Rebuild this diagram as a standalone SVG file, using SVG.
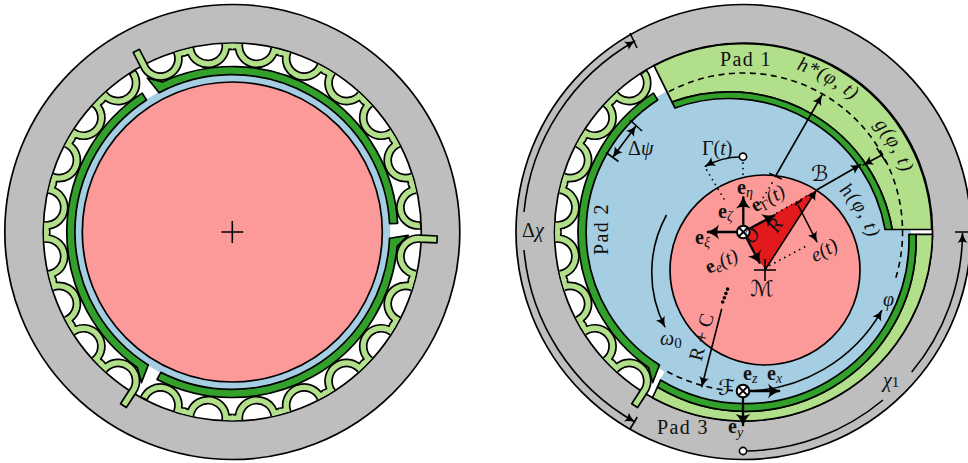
<svg xmlns="http://www.w3.org/2000/svg" xmlns:xlink="http://www.w3.org/1999/xlink" width="968" height="463" viewBox="0 0 968 463">
<style>
.k{stroke:#000;stroke-width:1.7;stroke-linejoin:round}
.gray{fill:#bebebe}.lime{fill:#b2df8a}.dark{fill:#33a02c}.blue{fill:#a6cee3}.pink{fill:#fb9a99}.red{fill:#e31a1c}.white{fill:#fff}
.l{fill:none;stroke:#000;stroke-width:1.6}
.v{fill:none;stroke:#000;stroke-width:2.3}
.dash{fill:none;stroke:#000;stroke-width:1.6;stroke-dasharray:6 4.5}
.dot{fill:none;stroke:#000;stroke-width:1.8;stroke-dasharray:0 5.6;stroke-linecap:round}
text{font-family:"Liberation Serif",serif;font-size:20px;fill:#111}
.i{font-style:italic}
.b{font-weight:bold}
.s{font-size:14px;font-style:italic}
.sc{font-family:"DejaVu Serif","DejaVu Sans",serif;font-style:italic;font-size:22px}
</style>
<defs>
<marker id="a" markerUnits="userSpaceOnUse" markerWidth="13" markerHeight="12" refX="10" refY="5.5" orient="auto-start-reverse" overflow="visible"><path d="M0,0.5 Q4,4 11,5.5 Q4,7 0,10.5 Q2.5,5.5 0,0.5Z"/></marker>
<marker id="A" markerUnits="userSpaceOnUse" markerWidth="16" markerHeight="16" refX="12" refY="7.5" orient="auto" overflow="visible"><path d="M0,0 Q5,5.5 13,7.5 Q5,9.5 0,15 Q3.5,7.5 0,0Z"/></marker>
<g id="b"><path class="lime" d="M-24.57,-186.66L-14.5,-187.7A14.5 14.5 0 0 0 14.5,-187.7L24.57,-186.66L23.8,-180.8L20.65,-181.7A21.5 21.5 0 0 1 -20.65,-181.7L-23.8,-180.8Z"/><path class="k" fill="none" d="M-14.5,-187.7A14.5 14.5 0 0 0 14.5,-187.7M23.8,-180.8L20.65,-181.7A21.5 21.5 0 0 1 -20.65,-181.7L-23.8,-180.8"/></g>
<g id="foil">
<path class="dark k" d="M165.3,-8.6A165.5 165.5 0 0 0 -69.9,-150L-85,-154L-73.2,-139.3A157.5 157.5 0 0 1 157.3,-8.3Z"/>
<g transform="rotate(-22.5)"><path class="lime" d="M-15.9,-204.3L-14.5,-187.7A14.5 14.5 0 0 0 14.5,-187.7L24.57,-186.66L23.8,-180.8L20.65,-181.7A21.5 21.5 0 0 1 -21.5,-187.7L-22.8,-203.7Z"/><path class="k" fill="none" d="M23.8,-180.8L20.65,-181.7A21.5 21.5 0 0 1 -21.5,-187.7L-22.8,-203.7L-15.9,-204.3L-14.5,-187.7A14.5 14.5 0 0 0 14.5,-187.7"/></g>
<use href="#b" transform="rotate(-7.5)"/><use href="#b" transform="rotate(7.5)"/><use href="#b" transform="rotate(22.5)"/><use href="#b" transform="rotate(37.5)"/><use href="#b" transform="rotate(52.5)"/><use href="#b" transform="rotate(67.5)"/>
<g transform="rotate(82.5)"><path class="lime" d="M-24.57,-186.66L-14.5,-187.7A14.5 14.5 0 0 0 14.5,-187.7L21.5,-187.7A21.5 21.5 0 0 1 -20.65,-181.7L-23.8,-180.8Z"/><path class="k" fill="none" d="M-14.5,-187.7A14.5 14.5 0 0 0 14.5,-187.7L21.5,-187.7A21.5 21.5 0 0 1 -20.65,-181.7L-23.8,-180.8"/></g>
</g>
<g id="otimes"><circle r="6.3" fill="#fff" stroke="#000" stroke-width="2"/><path d="M-4.4,-4.4L4.4,4.4M-4.4,4.4L4.4,-4.4" stroke="#000" stroke-width="2"/></g>
<path id="ph" d="M796.3,69.4A171 171 0 0 1 904.2,173.5"/>
<path id="pg" d="M873.9,124.5A169 169 0 0 1 911.9,217.3"/>
<path id="phh" d="M838.7,191A108 108 0 0 1 872.6,279.4"/>
</defs>

<g id="bearing-left">
<circle class="gray k" cx="232.3" cy="232" r="227.5"/>
<circle class="white k" cx="232.3" cy="232" r="189"/>
<circle class="blue" cx="232.3" cy="232" r="158"/>
<use href="#foil" transform="translate(232.3,232)"/>
<use href="#foil" transform="translate(232.3,232) rotate(120)"/>
<use href="#foil" transform="translate(232.3,232) rotate(240)"/>
<circle class="pink k" cx="232.3" cy="232" r="150"/>
<path class="l" d="M221.3,232H243.3M232.3,221V243"/>
</g>

<g id="bearing-right">
<circle class="gray k" cx="743.5" cy="232" r="227.5"/>
<circle class="white k" cx="743.5" cy="232" r="189"/>
<circle class="blue" cx="743.5" cy="232" r="160.5"/>
<path class="blue" d="M911,230V234.3A165.7 165.7 0 0 1 660,380L743,232Z"/>
<use id="pad-2" href="#foil" transform="translate(743.5,232) rotate(240)"/>
<g id="pad-1">
<path class="lime k" d="M654,65.7A189 189 0 0 1 931.7,229.5L892.2,229.5A165.5 165.5 0 0 0 672,102Z"/>
<path class="dark k" d="M675,108L672,102A165.5 165.5 0 0 1 892.2,229.5L885.1,229.5A158.5 158.5 0 0 0 675,108Z"/>
</g>
<g id="pad-3">
<path class="lime k" d="M932.5,234.3A189 189 0 0 1 652.5,397.7L657.5,387A170.7 170.7 0 0 0 915.9,234.3Z"/>
<path class="dark k" d="M908.9,234.3L915.9,234.3A170.7 170.7 0 0 1 657.5,387L660.5,380A163.7 163.7 0 0 0 908.9,234.3Z"/>
</g>
<circle id="shaft" class="pink k" cx="765" cy="270" r="95"/>
<path class="red" d="M743.5,232L816.5,190L765,270Z"/>
</g>

<g id="connectors">
<path class="dash" d="M668.9,91.6A159 159 0 0 1 895.6,278.5"/>
<path class="dash" d="M743.5,391A159 159 0 0 1 667,371.3"/>
<path class="l" marker-end="url(#a)" d="M743.5,391A159 159 0 0 0 881.9,310.3"/>
<path class="l" marker-end="url(#a)" d="M524,212A220 220 0 0 1 635,41"/>
<path class="l" marker-end="url(#a)" d="M524,250A220 220 0 0 0 635,422"/>
<path class="l" d="M630,33L637,48M637.3,417L630,429M955,232H968"/>
<path class="l" d="M746,451A219 219 0 0 0 883,400"/>
<path class="l" marker-end="url(#a)" d="M911.7,372A219 219 0 0 0 962.5,233"/>
<circle class="white" stroke="#000" stroke-width="1.6" cx="743" cy="451" r="3.6"/>
<path class="l" marker-end="url(#a)" d="M666.5,215A119 119 0 0 0 665,327"/>
<path class="l" marker-start="url(#a)" marker-end="url(#a)" d="M612.7,157.3L636,126"/>
<path class="l" d="M606,152.5L618.5,161.5M630,120L642,131"/>
<path class="l" marker-end="url(#a)" d="M740,157Q722,157 705,166.5"/>
<circle class="white" stroke="#000" stroke-width="1.6" cx="743" cy="156.7" r="3.6"/>
<path class="dot" d="M743,163V177M706.7,170L724,199M772,183L760,203M777,213L814,192M765,268L808.3,245"/>
<path class="l" marker-end="url(#a)" d="M775,177L822,95"/>
<path class="l" d="M769.3,173.3L781.7,179M876.7,148L886.7,163M795,205L801.7,200"/>
<path class="l" marker-end="url(#a)" d="M816.5,190L861,164.5"/>
<path class="l" marker-end="url(#a)" d="M881,155.5L863,165"/>
<path class="l" marker-end="url(#a)" d="M765,270L816.5,190"/>
<path class="l" marker-end="url(#a)" d="M798,205L817,242"/>
<path class="l" marker-end="url(#a)" d="M721.7,308.7L701.7,387"/>
<path fill="none" stroke="#000" stroke-width="3.6" stroke-dasharray="0 4.6" stroke-linecap="round" d="M722.7,302L728,288"/>
<path class="v" marker-end="url(#A)" d="M743.3,232V196.5"/>
<path class="v" marker-end="url(#A)" d="M743.3,232H707"/>
<path class="v" marker-end="url(#A)" d="M743.3,232L775,215"/>
<path class="v" marker-end="url(#A)" d="M743.3,232L760,263.5"/>
<path class="v" marker-end="url(#A)" d="M743,391H780"/>
<path class="v" marker-end="url(#A)" d="M743,391V426"/>
<path class="l" d="M754,270H776M765,259V281"/>
<use id="origin-o" href="#otimes" x="743.3" y="232"/>
<use id="origin-f" href="#otimes" x="743" y="391"/>
</g>

<g id="labels">
<text x="720" y="65.5" letter-spacing="1.4">Pad 1</text>
<text transform="translate(608,255) rotate(-90)" letter-spacing="1.4">Pad 2</text>
<text x="657" y="433.5" letter-spacing="1.4">Pad 3</text>
<text x="522" y="237">Δ<tspan class="i">χ</tspan></text>
<text x="628" y="155">Δ<tspan class="i">ψ</tspan></text>
<text x="702" y="155">Γ(<tspan class="i">t</tspan>)</text>
<text class="i" letter-spacing="0.6"><textPath href="#ph">h*(φ, t)</textPath></text>
<text class="i" letter-spacing="1"><textPath href="#pg">g(φ, t)</textPath></text>
<text class="i" letter-spacing="1"><textPath href="#phh">h(φ, t)</textPath></text>
<text class="i" transform="translate(815,262.5) rotate(-29)">e(t)</text>
<text transform="translate(708.5,274) rotate(-24)"><tspan class="b">e</tspan><tspan class="s" dy="3">e</tspan><tspan class="i" dy="-3">(t)</tspan></text>
<text transform="translate(755,212.5) rotate(-28)"><tspan class="b">e</tspan><tspan class="s" dy="3" style="font-style:normal">Γ</tspan><tspan class="i" dy="-3">(t)</tspan></text>
<text x="737" y="194"><tspan class="b">e</tspan><tspan class="s" dy="3">η</tspan></text>
<text x="718" y="218"><tspan class="b">e</tspan><tspan class="s" dy="3">ζ</tspan></text>
<text x="695" y="244"><tspan class="b">e</tspan><tspan class="s" dy="3">ξ</tspan></text>
<text class="i" transform="translate(753,245) rotate(-58)">O</text>
<text class="i" transform="translate(777,234) rotate(-57)">R</text>
<text class="sc" x="811" y="181">ℬ</text>
<text class="sc" x="750" y="296">ℳ</text>
<text class="sc" x="718" y="395">ℱ</text>
<text x="743" y="380"><tspan class="b">e</tspan><tspan class="s" dy="3">z</tspan></text>
<text x="767" y="380"><tspan class="b">e</tspan><tspan class="s" dy="3">x</tspan></text>
<text x="728" y="433"><tspan class="b">e</tspan><tspan class="s" dy="4">y</tspan></text>
<text x="883" y="387"><tspan class="i">χ</tspan><tspan style="font-size:15px">1</tspan></text>
<text class="i" x="883" y="306">φ</text>
<text x="660" y="345"><tspan class="i">ω</tspan><tspan style="font-size:15px" dy="3">0</tspan></text>
<text transform="translate(701.5,362) rotate(-75)">R + C</text>
</g>
</svg>
